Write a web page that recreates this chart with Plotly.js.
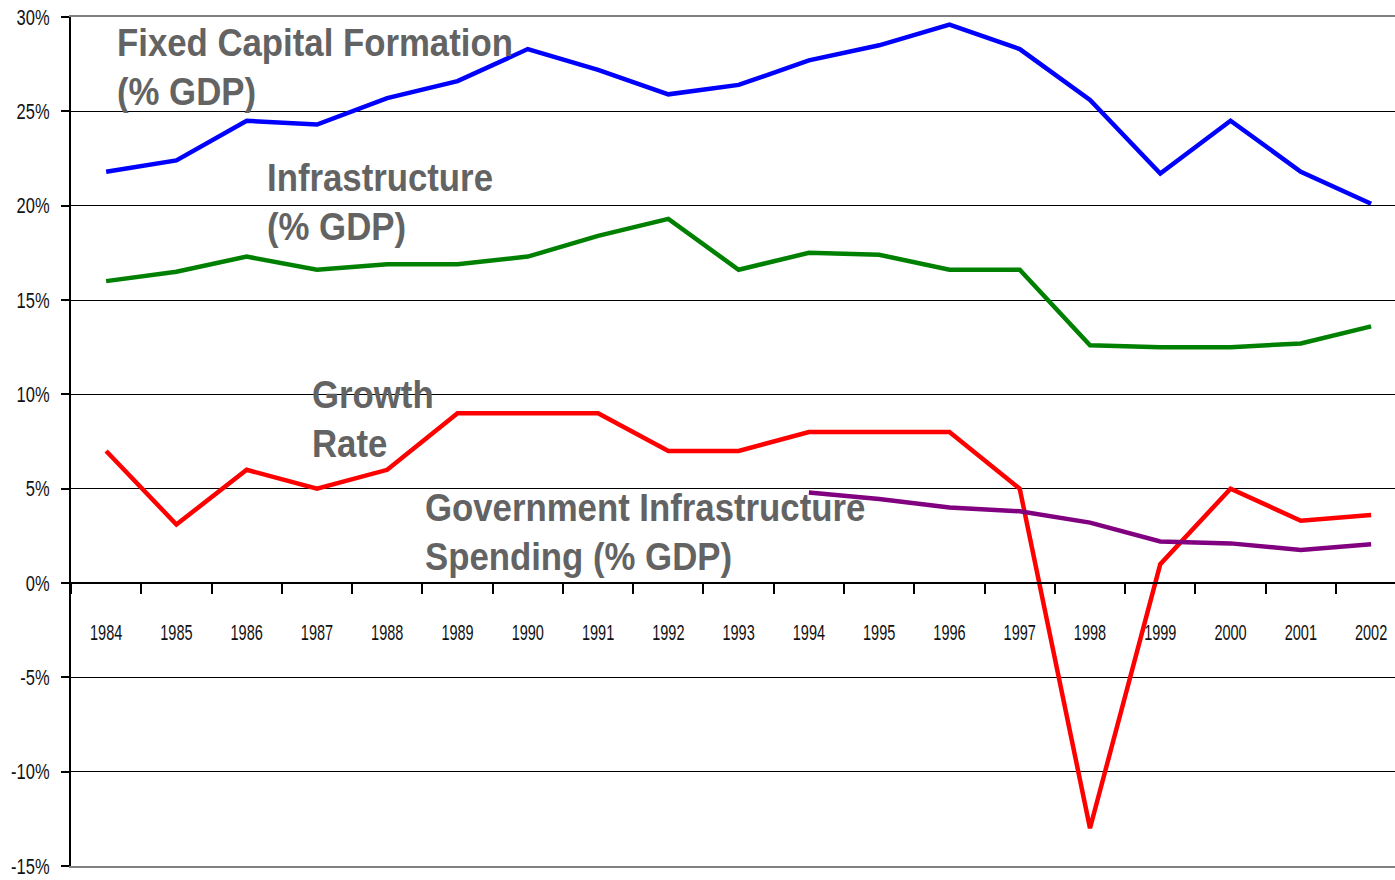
<!DOCTYPE html>
<html>
<head>
<meta charset="utf-8">
<script src="https://cdn.plot.ly/plotly-3.0.1.min.js"></script>
<style>html,body{margin:0;padding:0;background:#fff;}#chart{width:1395px;height:880px;}</style>
</head>
<body>
<div id="chart"></div>
<script>
var years = ["1984","1985","1986","1987","1988","1989","1990","1991","1992","1993","1994","1995","1996","1997","1998","1999","2000","2001","2002"];
var fixedCapital = [21.8, 22.4, 24.5, 24.3, 25.7, 26.6, 28.3, 27.2, 25.9, 26.4, 27.7, 28.5, 29.6, 28.3, 25.6, 21.7, 24.5, 21.8, 20.1];
var infrastructure = [16.0, 16.5, 17.3, 16.6, 16.9, 16.9, 17.3, 18.4, 19.3, 16.6, 17.5, 17.4, 16.6, 16.6, 12.6, 12.5, 12.5, 12.7, 13.6];
var growthRate = [7, 3.1, 6, 5, 6, 9, 9, 9, 7, 7, 8, 8, 8, 5, -13, 1, 5, 3.3, 3.6];
var govInfra = [null, null, null, null, null, null, null, null, null, null, 4.8, 4.45, 4.0, 3.8, 3.2, 2.2, 2.1, 1.75, 2.05];
var yTicks = [-15, -10, -5, 0, 5, 10, 15, 20, 25, 30];
var yTickText = ["-15%", "-10%", "-5%", "0%", "5%", "10%", "15%", "20%", "25%", "30%"];

var sans = '"Liberation Sans", Arial, sans-serif';
var lw = 4.5;
function series(y, color, name) {
  return {x: years, y: y, type: 'scatter', mode: 'lines', name: name,
    line: {color: color, width: lw}, connectgaps: false, hoverinfo: 'skip', cliponaxis: false};
}
var data = [
  series(fixedCapital, '#0000FF', 'Fixed Capital Formation (% GDP)'),
  series(infrastructure, '#008000', 'Infrastructure (% GDP)'),
  series(growthRate, '#FF0000', 'Growth Rate'),
  series(govInfra, '#800080', 'Government Infrastructure Spending (% GDP)')
];
var annFont = {family: sans, size: 38, color: '#636363', weight: 'bold'};
function ann(text, x, y) {
  return {text: text, xref: 'paper', yref: 'paper', x: x, y: y, xanchor: 'left', yanchor: 'top',
    align: 'left', showarrow: false, font: annFont};
}
var layout = {
  width: 1395, height: 880,
  margin: {l: 71, r: 0, t: 17, b: 14},
  paper_bgcolor: '#fff', plot_bgcolor: '#fff',
  showlegend: false,
  xaxis: {
    type: 'category', range: [-0.5, 18.34], anchor: 'free', position: 1/3,
    showline: true, linecolor: '#000', linewidth: 2,
    ticks: 'outside', tickson: 'boundaries', ticklen: 10, tickwidth: 2, tickcolor: '#000',
    ticklabelstandoff: 30,
    showgrid: false, zeroline: false,
    tickfont: {family: sans, size: 22, color: '#111'}
  },
  xaxis2: {
    overlaying: 'x', anchor: 'y', range: [0, 1], showline: true, mirror: true,
    linecolor: '#808080', linewidth: 2, showticklabels: false, ticks: '', showgrid: false, zeroline: false
  },
  yaxis: {
    range: [-15, 30], tickvals: yTicks, ticktext: yTickText,
    showline: true, linecolor: '#000', linewidth: 2,
    ticks: 'outside', ticklen: 8, tickwidth: 2, tickcolor: '#000',
    showgrid: true, gridcolor: '#000', gridwidth: 1,
    zeroline: true, zerolinecolor: '#000', zerolinewidth: 2,
    ticklabelstandoff: 7,
    tickfont: {family: sans, size: 22, color: '#111'}
  },
  annotations: [
    ann('Fixed Capital Formation<br>(% GDP)', 0.0335, 0.9965),
    ann('Infrastructure<br>(% GDP)', 0.1465, 0.8375),
    ann('Growth<br>Rate', 0.1805, 0.5819),
    ann('Government Infrastructure<br>Spending (% GDP)', 0.2655, 0.4488)
  ]
};
data.push({x: [0, 1], y: [null, null], xaxis: 'x2', yaxis: 'y', type: 'scatter', mode: 'lines', hoverinfo: 'skip', showlegend: false});

function condense(selector, s, where) {
  document.querySelectorAll(selector).forEach(function (t) {
    var b = t.getBBox();
    var c = where === 'left' ? b.x : (where === 'right' ? b.x + b.width : b.x + b.width / 2);
    var old = t.getAttribute('transform') || '';
    t.setAttribute('transform', old + ' translate(' + c + ',0) scale(' + s + ',1) translate(' + (-c) + ',0)');
  });
}
Plotly.newPlot('chart', data, layout, {staticPlot: true}).then(function () {
  condense('.xtick text', 0.66, 'center');
  condense('.ytick text', 0.75, 'right');
  condense('.annotation-text', 0.915, 'left');
});
</script>
</body>
</html>
